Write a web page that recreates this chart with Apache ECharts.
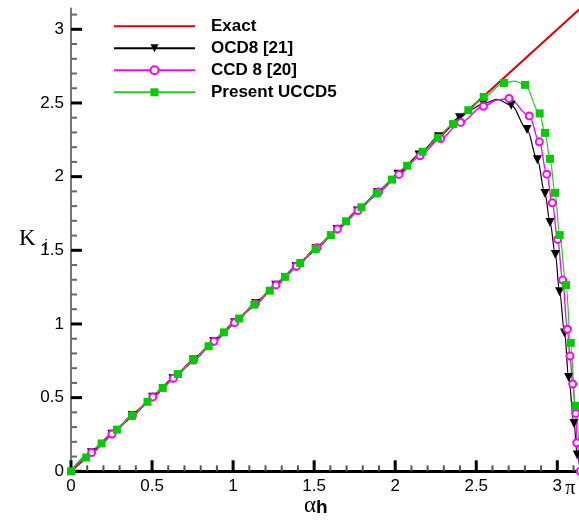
<!DOCTYPE html>
<html><head><meta charset="utf-8">
<script src="https://cdn.jsdelivr.net/npm/echarts@6/dist/echarts.min.js"></script>
<style>html,body{margin:0;padding:0;background:#fff}#c{width:579px;height:520px}</style>
</head><body><div id="c"></div>
<script>
const PI = Math.PI;
// axis ticks and labels
const xLabelValues = [0, 0.5, 1, 1.5, 2, 2.5, 3, PI];
const xLabelTexts = ['0', '0.5', '1', '1.5', '2', '2.5', '3', 'π'];
const yLabelValues = [0, 0.5, 1, 1.5, 2, 2.5, 3];
const yLabelTexts = ['0', '0.5', '1', '1.5', '2', '2.5', '3'];
const majorTicks = [0, 0.5, 1, 1.5, 2, 2.5, 3];
const minorTicks = [0.1,0.2,0.3,0.4,0.6,0.7,0.8,0.9,1.1,1.2,1.3,1.4,1.6,1.7,1.8,1.9,2.1,2.2,2.3,2.4,2.6,2.7,2.8,2.9,3.1];
const xTitle = '{a|α}{h|h}';
const yTitle = '{k|K}{s|i}';

const seriesNames = ['Exact', 'OCD8 [21]', 'CCD 8 [20]', 'Present UCCD5'];

// Exact
const exactX = [0, 3.1416];
const exactY = [0, 3.1416];

// OCD8 [21] : marker points
const ocdX = [0.126,0.252,0.378,0.503,0.629,0.755,0.881,1.009,1.139,1.263,1.388,1.511,1.641,1.767,1.891,2.017,2.147,2.267,2.397,
              2.544,2.716,2.813,2.877,2.924,2.955,2.988,3.014,3.045,3.070,3.103,3.123];
const ocdY = [0.126,0.252,0.378,0.503,0.629,0.755,0.881,1.009,1.139,1.263,1.388,1.511,1.641,1.767,1.891,2.017,2.147,2.270,2.400,
              2.497,2.485,2.320,2.115,1.885,1.689,1.471,1.218,0.938,0.636,0.324,0.111];
// OCD8 extra curve points (no marker)
const ocdCurveX = [0, 2.47, 2.63, 3.1416];
const ocdCurveY = [0, 2.458, 2.524, 0];

// CCD 8 [20]
const ccdX = [0.127,0.253,0.379,0.505,0.631,0.756,0.882,1.009,1.138,1.265,1.391,1.518,1.644,1.770,1.897,2.023,2.153,2.280,2.404,
              2.544,2.702,2.827,2.889,2.935,2.969,3.002,3.033,3.062,3.078,3.095,3.114,3.120,3.1416];
const ccdY = [0.127,0.253,0.379,0.505,0.631,0.756,0.882,1.009,1.138,1.265,1.391,1.518,1.644,1.770,1.895,2.015,2.141,2.259,2.368,
              2.478,2.531,2.412,2.236,2.017,1.822,1.574,1.298,0.965,0.782,0.592,0.393,0.194,0];
const ccdCurveX = [0, 2.63];
const ccdCurveY = [0, 2.52];

// Present UCCD5
const uccX = [0,0.094,0.189,0.283,0.377,0.472,0.566,0.660,0.754,0.849,0.943,1.037,1.131,1.226,1.320,1.414,1.509,1.603,1.697,1.792,
              1.886,1.980,2.074,2.169,2.263,2.357,2.451,2.546,
              2.671,2.801,2.891,2.924,2.955,2.986,3.015,3.054,3.083,3.111];
const uccY = [0,0.094,0.189,0.283,0.377,0.472,0.566,0.660,0.754,0.849,0.943,1.037,1.131,1.226,1.320,1.414,1.509,1.603,1.697,1.792,
              1.886,1.980,2.074,2.169,2.263,2.357,2.451,2.541,
              2.636,2.623,2.429,2.297,2.121,1.890,1.603,1.264,0.872,0.445];
const uccCurveX = [2.739, 3.1416];
const uccCurveY = [2.648, 0];

function build(mx, my, ex, ey) {
  const pts = mx.map((x, i) => ({ value: [x, my[i]] }));
  ex.forEach((x, i) => pts.push({ value: [x, ey[i]], symbol: 'none' }));
  pts.sort((a, b) => a.value[0] - b.value[0]);
  return pts;
}
function labelOf(vals, texts, v) {
  for (let i = 0; i < vals.length; i++) if (Math.abs(vals[i] - v) < 1e-6) return texts[i];
  return '';
}

// plot geometry (pixels per unit)
const L = 71, B = 471.3, SX = 162.1, SY = 147.33;
const MAJ = 11, MIN = 6;
const FONT = 'Liberation Sans';
const chart = echarts.init(document.getElementById('c'), null, { renderer: 'canvas' });
const axisLabelStyle = { fontFamily: FONT, fontSize: 17, color: '#000' };

chart.setOption({
  animation: false,
  backgroundColor: '#fff',
  grid: { left: L, top: B - SY * PI, width: SX * PI, height: SY * PI, containLabel: false, outerBoundsMode: 'none' },
  title: [
    { text: xTitle, left: 304, top: 494, padding: 0,
      textStyle: { fontWeight: 'normal', rich: {
        a: { fontFamily: 'Liberation Serif', fontSize: 23, fontWeight: 'normal', color: '#000', verticalAlign: 'bottom' },
        h: { fontFamily: FONT, fontSize: 19, fontWeight: 'bold', color: '#000', verticalAlign: 'bottom' } } } },
    { text: yTitle, left: 19, top: 227, padding: 0,
      textStyle: { fontWeight: 'normal', rich: {
        k: { fontFamily: 'Liberation Serif', fontSize: 23, fontWeight: 'normal', color: '#000', verticalAlign: 'bottom', padding: [0, 0, 3, 0] },
        s: { fontFamily: FONT, fontSize: 14, fontWeight: 'normal', color: '#000', verticalAlign: 'bottom', padding: [0, 0, 0, 9] } } } }
  ],
  legend: {
    left: 113, top: 17.8, orient: 'vertical', padding: 0,
    itemWidth: 81, itemHeight: 10, itemGap: 5,
    textStyle: { fontFamily: FONT, fontSize: 17, fontWeight: 'bold', color: '#000', lineHeight: 17, padding: [0, 0, 0, 11] },
    data: [
      { name: seriesNames[0], itemStyle: { opacity: 0 } },
      { name: seriesNames[1] },
      { name: seriesNames[2] },
      { name: seriesNames[3] }
    ]
  },
  xAxis: {
    type: 'value', min: 0, max: PI, position: 'bottom',
    axisLine: { show: true, onZero: false, lineStyle: { color: '#000', width: 3 } },
    axisTick: { show: false },
    axisLabel: {
      show: true, margin: 7, customValues: xLabelValues, ...axisLabelStyle,
      formatter: v => { const s = labelOf(xLabelValues, xLabelTexts, v); return s === 'π' ? '{p|π}' : s; },
      rich: { p: { fontFamily: 'Liberation Serif', fontSize: 20, color: '#000', padding: [0, 20, 0, 0] } }
    },
    splitLine: { show: false }
  },
  yAxis: {
    type: 'value', min: 0, max: PI, position: 'left',
    axisLine: { show: true, onZero: false, lineStyle: { color: '#777', width: 2 } },
    axisTick: { show: false },
    axisLabel: {
      show: true, margin: 7, customValues: yLabelValues, ...axisLabelStyle,
      formatter: v => labelOf(yLabelValues, yLabelTexts, v)
    },
    splitLine: { show: false }
  },
  series: [
    {
      name: seriesNames[0], type: 'line', symbol: 'none', clip: false,
      data: exactX.map((x, i) => [x, exactY[i]]),
      lineStyle: { color: '#dd0000', width: 2 }, itemStyle: { color: '#dd0000' }
    },
    {
      name: seriesNames[1], type: 'line', clip: false,
      data: build(ocdX, ocdY, ocdCurveX, ocdCurveY),
      smooth: 0.35, smoothMonotone: 'x',
      symbol: 'triangle', symbolRotate: 180, symbolSize: 9, showAllSymbol: true,
      lineStyle: { color: '#000', width: 1.2 }, itemStyle: { color: '#000' }
    },
    {
      name: seriesNames[2], type: 'line', clip: false,
      data: build(ccdX, ccdY, ccdCurveX, ccdCurveY),
      smooth: 0.35, smoothMonotone: 'x',
      symbol: 'emptyCircle', symbolSize: 7, showAllSymbol: true,
      lineStyle: { color: '#ff00ff', width: 1.4 }, itemStyle: { color: '#ff00ff', borderWidth: 1.2 }
    },
    {
      name: seriesNames[3], type: 'line', clip: false,
      data: build(uccX, uccY, uccCurveX, uccCurveY),
      smooth: 0.35, smoothMonotone: 'x',
      symbol: 'rect', symbolSize: 8, showAllSymbol: true,
      lineStyle: { color: '#22cc22', width: 1.2 }, itemStyle: { color: '#00cc00' }
    }
  ]
});

// axis ticks, placed through the chart's own scales
const x0 = chart.convertToPixel({ xAxisIndex: 0 }, 0);
const y0 = chart.convertToPixel({ yAxisIndex: 0 }, 0);
const tickEls = [];
function addTick(isX, v, len, color, w) {
  if (isX) {
    const px = chart.convertToPixel({ xAxisIndex: 0 }, v);
    tickEls.push({ type: 'line', z: 1, silent: true, shape: { x1: px, y1: y0, x2: px, y2: y0 - len }, style: { stroke: color, lineWidth: w } });
  } else {
    const py = chart.convertToPixel({ yAxisIndex: 0 }, v);
    tickEls.push({ type: 'line', z: 1, silent: true, shape: { x1: x0, y1: py, x2: x0 + len, y2: py }, style: { stroke: color, lineWidth: w } });
  }
}
minorTicks.forEach(v => { addTick(true, v, MIN, '#555', 2); addTick(false, v, MIN, '#666', 2); });
majorTicks.forEach(v => { addTick(true, v, MAJ, '#000', 3); addTick(false, v, MAJ, '#000', 3); });
chart.setOption({ graphic: { elements: tickEls } });
</script>
</body></html>
